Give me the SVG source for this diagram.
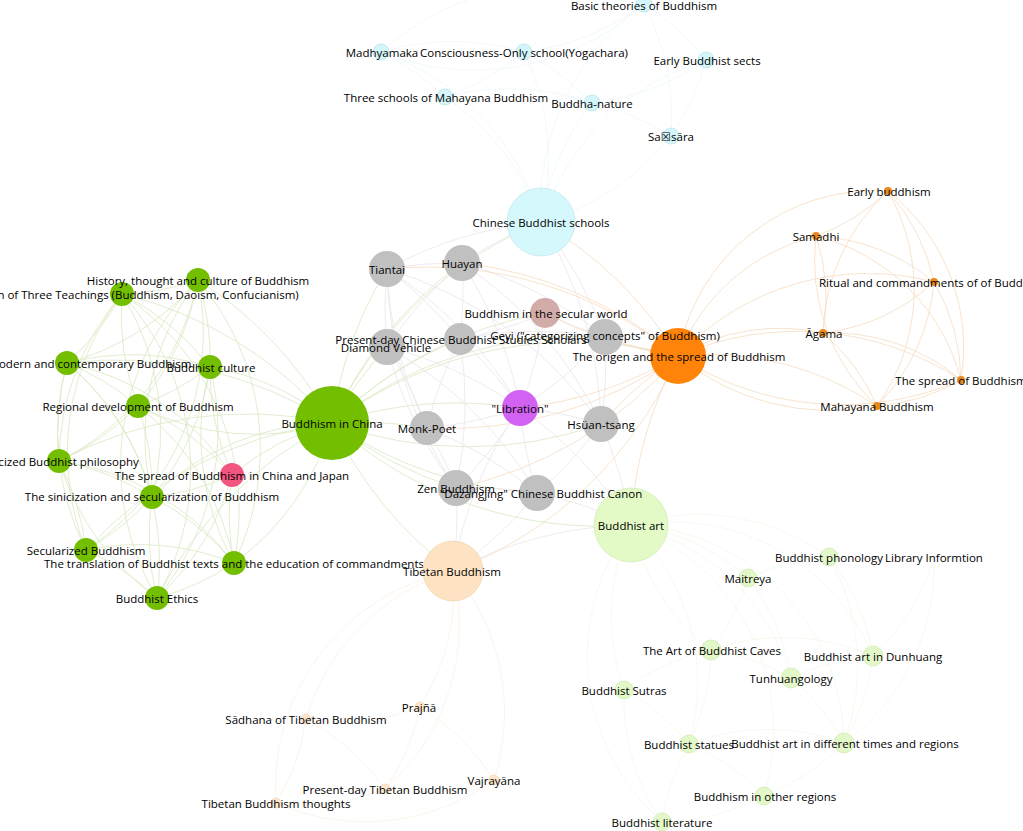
<svg xmlns="http://www.w3.org/2000/svg" width="1023" height="831" viewBox="0 0 1023 831">
<style>
text{font-family:"Open Sans","Noto Sans","DejaVu Sans",sans-serif;font-size:11.5px;fill:#000;text-anchor:middle;dominant-baseline:central}
path{fill:none;stroke-width:0.8}
.eg{stroke:#d9e8c3}
.ec{stroke:#ebe5ec}
.eo{stroke:#f8dcc0}
.ey{stroke:#eef8f9}
.el{stroke:#f2f9ea}
.ep{stroke:#fcf1e6}
.cy{fill:#d4f6fa;stroke:#aedde4;stroke-width:0.6}
.gr{fill:#74be00}
.or{fill:#e8891c}
.lg{fill:#e3f8c8;stroke:#c9e6a7;stroke-width:0.6}
.pe{fill:#fde6cc;stroke:#efd0ae;stroke-width:0.6}
.gy{fill:#c0c0c0}
</style>
<rect width="1023" height="831" fill="#ffffff"/>
<g id="edges">
<path class="eg" d="M198 280A260 260 0 0 1 122 294"/>
<path class="eg" d="M198 280A260 260 0 0 1 67 363"/>
<path class="eg" d="M198 280A260 260 0 0 1 210 367"/>
<path class="eg" d="M198 280A260 260 0 0 1 138 406"/>
<path class="eg" d="M198 280A260 260 0 0 1 59 461"/>
<path class="eg" d="M152 497A260 260 0 0 1 198 280"/>
<path class="eg" d="M198 280A260 260 0 0 1 86 550"/>
<path class="eg" d="M198 280A260 260 0 0 1 234 563"/>
<path class="eg" d="M157 598A260 260 0 0 1 198 280"/>
<path class="eg" d="M198 280A400 400 0 0 1 332 423"/>
<path class="eg" d="M122 294A260 260 0 0 1 67 363"/>
<path class="eg" d="M122 294A260 260 0 0 1 210 367"/>
<path class="eg" d="M138 406A260 260 0 0 1 122 294"/>
<path class="eg" d="M59 461A260 260 0 0 1 122 294"/>
<path class="eg" d="M122 294A260 260 0 0 1 152 497"/>
<path class="eg" d="M86 550A260 260 0 0 1 122 294"/>
<path class="eg" d="M122 294A260 260 0 0 1 234 563"/>
<path class="eg" d="M122 294A260 260 0 0 1 157 598"/>
<path class="eg" d="M122 294A400 400 0 0 1 332 423"/>
<path class="eg" d="M67 363A260 260 0 0 1 210 367"/>
<path class="eg" d="M67 363A260 260 0 0 1 138 406"/>
<path class="eg" d="M59 461A260 260 0 0 1 67 363"/>
<path class="eg" d="M67 363A260 260 0 0 1 152 497"/>
<path class="eg" d="M86 550A260 260 0 0 1 67 363"/>
<path class="eg" d="M67 363A260 260 0 0 1 157 598"/>
<path class="eg" d="M67 363A400 400 0 0 1 332 423"/>
<path class="eg" d="M210 367A260 260 0 0 1 138 406"/>
<path class="eg" d="M210 367A260 260 0 0 1 152 497"/>
<path class="eg" d="M234 563A260 260 0 0 1 210 367"/>
<path class="eg" d="M210 367A260 260 0 0 1 157 598"/>
<path class="eg" d="M210 367A260 260 0 0 1 332 423"/>
<path class="eg" d="M232 475A260 260 0 0 1 210 367"/>
<path class="eg" d="M138 406A260 260 0 0 1 59 461"/>
<path class="eg" d="M138 406A260 260 0 0 1 152 497"/>
<path class="eg" d="M138 406A260 260 0 0 1 234 563"/>
<path class="eg" d="M332 423A260 260 0 0 1 138 406"/>
<path class="eg" d="M138 406A260 260 0 0 1 232 475"/>
<path class="eg" d="M59 461A260 260 0 0 1 152 497"/>
<path class="eg" d="M59 461A260 260 0 0 1 86 550"/>
<path class="eg" d="M157 598A260 260 0 0 1 59 461"/>
<path class="eg" d="M59 461A260 260 0 0 1 234 563"/>
<path class="eg" d="M59 461A400 400 0 0 1 332 423"/>
<path class="eg" d="M152 497A260 260 0 0 1 86 550"/>
<path class="eg" d="M152 497A260 260 0 0 1 234 563"/>
<path class="eg" d="M157 598A260 260 0 0 1 152 497"/>
<path class="eg" d="M152 497A260 260 0 0 1 332 423"/>
<path class="eg" d="M232 475A260 260 0 0 1 152 497"/>
<path class="eg" d="M86 550A260 260 0 0 1 234 563"/>
<path class="eg" d="M86 550A260 260 0 0 1 157 598"/>
<path class="eg" d="M86 550A400 400 0 0 1 332 423"/>
<path class="eg" d="M234 563A260 260 0 0 1 157 598"/>
<path class="eg" d="M332 423A260 260 0 0 1 234 563"/>
<path class="eg" d="M234 563A260 260 0 0 1 232 475"/>
<path class="eg" d="M157 598A400 400 0 0 1 332 423"/>
<path class="eg" d="M232 475A260 260 0 0 1 157 598"/>
<path class="eg" d="M232 475A260 260 0 0 1 332 423"/>
<path class="eg" d="M67 363A260 260 0 0 1 232 475"/>
<path class="eg" d="M332 423A400 400 0 0 1 387 269"/>
<path class="eg" d="M332 423A400 400 0 0 1 462 263"/>
<path class="eg" d="M332 423A400 400 0 0 1 460 339"/>
<path class="eg" d="M332 423A400 400 0 0 1 387 347"/>
<path class="eg" d="M332 423A400 400 0 0 1 427 428"/>
<path class="eg" d="M456 488A400 400 0 0 1 332 423"/>
<path class="eg" d="M537 493A400 400 0 0 1 332 423"/>
<path class="eg" d="M332 423A400 400 0 0 1 520 408"/>
<path class="eg" d="M601 424A400 400 0 0 1 332 423"/>
<path class="eg" d="M332 423A400 400 0 0 1 605 337"/>
<path class="eg" d="M332 423A400 400 0 0 1 678 356"/>
<path class="eg" d="M332 423A400 400 0 0 1 541 222"/>
<path class="eg" d="M453 571A400 400 0 0 1 332 423"/>
<path class="eg" d="M631 525A400 400 0 0 1 332 423"/>
<path class="eg" d="M332 423A400 400 0 0 1 545 313"/>
<path class="ec" d="M387 269A400 400 0 0 1 462 263"/>
<path class="ec" d="M387 347A400 400 0 0 1 387 269"/>
<path class="ec" d="M387 269A400 400 0 0 1 460 339"/>
<path class="ec" d="M387 269A400 400 0 0 1 541 222"/>
<path class="ec" d="M427 428A400 400 0 0 1 387 269"/>
<path class="ec" d="M456 488A400 400 0 0 1 387 269"/>
<path class="ec" d="M387 269A400 400 0 0 1 520 408"/>
<path class="ec" d="M462 263A400 400 0 0 1 460 339"/>
<path class="ec" d="M462 263A400 400 0 0 1 541 222"/>
<path class="ec" d="M387 347A400 400 0 0 1 462 263"/>
<path class="ec" d="M462 263A400 400 0 0 1 605 337"/>
<path class="ec" d="M462 263A400 400 0 0 1 520 408"/>
<path class="ec" d="M462 263A400 400 0 0 1 601 424"/>
<path class="ec" d="M460 339A400 400 0 0 1 387 347"/>
<path class="ec" d="M460 339A400 400 0 0 1 520 408"/>
<path class="ec" d="M460 339A400 400 0 0 1 605 337"/>
<path class="ec" d="M427 428A400 400 0 0 1 460 339"/>
<path class="ec" d="M460 339A400 400 0 0 1 456 488"/>
<path class="ec" d="M387 347A400 400 0 0 1 427 428"/>
<path class="ec" d="M456 488A400 400 0 0 1 387 347"/>
<path class="ec" d="M387 347A400 400 0 0 1 520 408"/>
<path class="ec" d="M605 337A400 400 0 0 1 520 408"/>
<path class="ec" d="M605 337A400 400 0 0 1 601 424"/>
<path class="ec" d="M605 337A400 400 0 0 1 545 313"/>
<path class="ec" d="M545 313A400 400 0 0 1 520 408"/>
<path class="ec" d="M545 313A400 400 0 0 1 460 339"/>
<path class="ec" d="M520 408A400 400 0 0 1 601 424"/>
<path class="ec" d="M520 408A400 400 0 0 1 427 428"/>
<path class="ec" d="M520 408A400 400 0 0 1 456 488"/>
<path class="ec" d="M537 493A400 400 0 0 1 520 408"/>
<path class="ec" d="M520 408A400 400 0 0 1 631 525"/>
<path class="ec" d="M453 571A400 400 0 0 1 520 408"/>
<path class="ec" d="M601 424A400 400 0 0 1 537 493"/>
<path class="ec" d="M601 424A400 400 0 0 1 631 525"/>
<path class="ec" d="M427 428A400 400 0 0 1 456 488"/>
<path class="ec" d="M427 428A400 400 0 0 1 537 493"/>
<path class="ec" d="M456 488A400 400 0 0 1 537 493"/>
<path class="ec" d="M456 488A400 400 0 0 1 453 571"/>
<path class="ec" d="M537 493A400 400 0 0 1 631 525"/>
<path class="ec" d="M537 493A400 400 0 0 1 453 571"/>
<path class="ec" d="M541 222A400 400 0 0 1 605 337"/>
<path class="ec" d="M541 222A400 400 0 0 1 601 424"/>
<path class="ec" d="M453 571A400 400 0 0 1 631 525"/>
<path class="ec" d="M387 347A400 400 0 0 1 537 493"/>
<path class="ec" d="M387 269A400 400 0 0 1 601 424"/>
<path class="eo" d="M541 222A400 400 0 0 1 678 356"/>
<path class="eo" d="M678 356A400 400 0 0 1 605 337"/>
<path class="eo" d="M678 356A400 400 0 0 1 545 313"/>
<path class="eo" d="M601 424A400 400 0 0 1 678 356"/>
<path class="eo" d="M678 356A400 400 0 0 1 520 408"/>
<path class="eo" d="M631 525A400 400 0 0 1 678 356"/>
<path class="eo" d="M678 356A400 400 0 0 1 453 571"/>
<path class="eo" d="M387 269A400 400 0 0 1 678 356"/>
<path class="eo" d="M462 263A400 400 0 0 1 678 356"/>
<path class="eo" d="M678 356A400 400 0 0 1 427 428"/>
<path class="eo" d="M678 356A400 400 0 0 1 456 488"/>
<path class="eo" d="M678 356A200 200 0 0 1 888 191"/>
<path class="eo" d="M678 356A200 200 0 0 1 816 236"/>
<path class="eo" d="M678 356A260 260 0 0 1 934 282"/>
<path class="eo" d="M678 356A200 200 0 0 1 823 333"/>
<path class="eo" d="M961 380A300 300 0 0 1 678 356"/>
<path class="eo" d="M877 406A240 240 0 0 1 678 356"/>
<path class="eo" d="M678 356A300 300 0 0 1 877 406"/>
<path class="eo" d="M678 356A300 300 0 0 1 961 380"/>
<path class="eo" d="M888 191A200 200 0 0 1 816 236"/>
<path class="eo" d="M888 191A200 200 0 0 1 934 282"/>
<path class="eo" d="M823 333A200 200 0 0 1 888 191"/>
<path class="eo" d="M888 191A200 200 0 0 1 961 380"/>
<path class="eo" d="M888 191A200 200 0 0 1 877 406"/>
<path class="eo" d="M816 236A200 200 0 0 1 934 282"/>
<path class="eo" d="M816 236A200 200 0 0 1 823 333"/>
<path class="eo" d="M877 406A200 200 0 0 1 816 236"/>
<path class="eo" d="M816 236A200 200 0 0 1 961 380"/>
<path class="eo" d="M934 282A200 200 0 0 1 823 333"/>
<path class="eo" d="M934 282A200 200 0 0 1 961 380"/>
<path class="eo" d="M934 282A200 200 0 0 1 877 406"/>
<path class="eo" d="M823 333A200 200 0 0 1 877 406"/>
<path class="eo" d="M823 333A200 200 0 0 1 961 380"/>
<path class="eo" d="M961 380A200 200 0 0 1 877 406"/>
<path class="ey" d="M541 222A250 250 0 0 1 644 4"/>
<path class="ey" d="M381 52A250 250 0 0 1 541 222"/>
<path class="ey" d="M524 52A250 250 0 0 1 541 222"/>
<path class="ey" d="M541 222A250 250 0 0 1 706 60"/>
<path class="ey" d="M445 97A250 250 0 0 1 541 222"/>
<path class="ey" d="M541 222A250 250 0 0 1 592 103"/>
<path class="ey" d="M671 136A250 250 0 0 1 541 222"/>
<path class="ey" d="M644 4A250 250 0 0 1 381 52"/>
<path class="ey" d="M644 4A250 250 0 0 1 524 52"/>
<path class="ey" d="M644 4A250 250 0 0 1 706 60"/>
<path class="ey" d="M644 4A250 250 0 0 1 671 136"/>
<path class="ey" d="M381 52A250 250 0 0 1 524 52"/>
<path class="ey" d="M381 52A250 250 0 0 1 445 97"/>
<path class="ey" d="M524 52A250 250 0 0 1 445 97"/>
<path class="ey" d="M524 52A250 250 0 0 1 592 103"/>
<path class="ey" d="M592 103A250 250 0 0 1 671 136"/>
<path class="ey" d="M706 60A250 250 0 0 1 671 136"/>
<path class="ey" d="M445 97A250 250 0 0 1 592 103"/>
<path class="ey" d="M706 60A250 250 0 0 1 592 103"/>
<path class="ey" d="M381 52A250 250 0 0 1 644 4"/>
<path class="el" d="M631 525A220 220 0 0 1 829 557"/>
<path class="el" d="M631 525A220 220 0 0 1 748 578"/>
<path class="el" d="M711 650A220 220 0 0 1 631 525"/>
<path class="el" d="M631 525A220 220 0 0 1 873 656"/>
<path class="el" d="M631 525A220 220 0 0 1 791 678"/>
<path class="el" d="M624 690A220 220 0 0 1 631 525"/>
<path class="el" d="M631 525A220 220 0 0 1 689 744"/>
<path class="el" d="M631 525A220 220 0 0 1 844 743"/>
<path class="el" d="M631 525A220 220 0 0 1 764 796"/>
<path class="el" d="M662 822A220 220 0 0 1 631 525"/>
<path class="el" d="M748 578A220 220 0 0 1 829 557"/>
<path class="el" d="M829 557A220 220 0 0 1 873 656"/>
<path class="el" d="M829 557A220 220 0 0 1 844 743"/>
<path class="el" d="M748 578A220 220 0 0 1 711 650"/>
<path class="el" d="M748 578A220 220 0 0 1 791 678"/>
<path class="el" d="M711 650A220 220 0 0 1 791 678"/>
<path class="el" d="M711 650A220 220 0 0 1 873 656"/>
<path class="el" d="M624 690A220 220 0 0 1 711 650"/>
<path class="el" d="M711 650A220 220 0 0 1 689 744"/>
<path class="el" d="M791 678A220 220 0 0 1 873 656"/>
<path class="el" d="M791 678A220 220 0 0 1 844 743"/>
<path class="el" d="M624 690A220 220 0 0 1 689 744"/>
<path class="el" d="M662 822A220 220 0 0 1 624 690"/>
<path class="el" d="M689 744A220 220 0 0 1 844 743"/>
<path class="el" d="M689 744A220 220 0 0 1 764 796"/>
<path class="el" d="M844 743A220 220 0 0 1 764 796"/>
<path class="el" d="M873 656A220 220 0 0 1 844 743"/>
<path class="el" d="M764 796A220 220 0 0 1 662 822"/>
<path class="el" d="M662 822A220 220 0 0 1 689 744"/>
<path class="el" d="M934 557A220 220 0 0 1 873 656"/>
<path class="el" d="M934 557A220 220 0 0 1 844 743"/>
<path class="ep" d="M453 571A220 220 0 0 1 420 707"/>
<path class="ep" d="M306 719A220 220 0 0 1 453 571"/>
<path class="ep" d="M453 571A220 220 0 0 1 494 780"/>
<path class="ep" d="M453 571A220 220 0 0 1 385 789"/>
<path class="ep" d="M276 803A220 220 0 0 1 453 571"/>
<path class="ep" d="M420 707A220 220 0 0 1 306 719"/>
<path class="ep" d="M420 707A220 220 0 0 1 494 780"/>
<path class="ep" d="M420 707A220 220 0 0 1 385 789"/>
<path class="ep" d="M306 719A220 220 0 0 1 276 803"/>
<path class="ep" d="M306 719A220 220 0 0 1 385 789"/>
<path class="ep" d="M494 780A220 220 0 0 1 385 789"/>
<path class="ep" d="M385 789A220 220 0 0 1 276 803"/>
<path class="ep" d="M494 780A220 220 0 0 1 276 803"/>
</g>
<g id="n-basic"><circle class="cy" cx="644" cy="4" r="8"/><text x="644" y="5">Basic theories of Buddhism</text></g>
<g id="n-madhyamaka"><circle class="cy" cx="381" cy="52" r="8"/><text x="382" y="52">Madhyamaka</text></g>
<g id="n-consciousness"><circle class="cy" cx="524" cy="52" r="8"/><text x="524" y="52">Consciousness-Only school(Yogachara)</text></g>
<g id="n-early-sects"><circle class="cy" cx="706" cy="60" r="8"/><text x="707" y="60">Early Buddhist sects</text></g>
<g id="n-three-schools"><circle class="cy" cx="445" cy="97" r="8"/><text x="446" y="97">Three schools of Mahayana Buddhism</text></g>
<g id="n-buddha-nature"><circle class="cy" cx="592" cy="103" r="8"/><text x="592" y="103">Buddha-nature</text></g>
<g id="n-samsara"><circle class="cy" cx="671" cy="136" r="8"/><text x="671" y="136">Sa☒sāra</text></g>
<g id="n-early-buddhism"><circle class="or" cx="888" cy="191" r="4"/><text x="889" y="191">Early buddhism</text></g>
<g id="n-samadhi"><circle class="or" cx="816" cy="236" r="4"/><text x="816" y="236">Samadhi</text></g>
<g id="n-ritual"><circle class="or" cx="934" cy="282" r="4"/><text x="934" y="282">Ritual and commandments of of Buddhism</text></g>
<g id="n-agama"><circle class="or" cx="823" cy="333" r="4"/><text x="824" y="333">Āgama</text></g>
<g id="n-spread"><circle class="or" cx="961" cy="380" r="4"/><text x="961" y="380">The spread of Buddhism</text></g>
<g id="n-mahayana"><circle class="or" cx="877" cy="406" r="4"/><text x="877" y="406">Mahayana Buddhism</text></g>
<g id="n-phonology"><circle class="lg" cx="829" cy="557" r="9"/><text x="829" y="557">Buddhist phonology</text></g>
<g id="n-library"><text x="934" y="557">Library Informtion</text></g>
<g id="n-maitreya"><circle class="lg" cx="748" cy="578" r="9"/><text x="748" y="578">Maitreya</text></g>
<g id="n-caves"><circle class="lg" cx="711" cy="650" r="10"/><text x="712" y="650">The Art of Buddhist Caves</text></g>
<g id="n-dunhuang"><circle class="lg" cx="873" cy="656" r="10"/><text x="873" y="656">Buddhist art in Dunhuang</text></g>
<g id="n-tunhuangology"><circle class="lg" cx="791" cy="678" r="10"/><text x="791" y="678">Tunhuangology</text></g>
<g id="n-sutras"><circle class="lg" cx="624" cy="690" r="9"/><text x="624" y="690">Buddhist Sutras</text></g>
<g id="n-statues"><circle class="lg" cx="689" cy="744" r="9"/><text x="689" y="744">Buddhist statues</text></g>
<g id="n-art-times"><circle class="lg" cx="844" cy="743" r="10"/><text x="845" y="743">Buddhist art in different times and regions</text></g>
<g id="n-other-regions"><circle class="lg" cx="764" cy="796" r="9"/><text x="765" y="796">Buddhism in other regions</text></g>
<g id="n-literature"><circle class="lg" cx="662" cy="822" r="9"/><text x="662" y="822">Buddhist literature</text></g>
<g id="n-prajna"><circle class="pe" cx="420" cy="707" r="5"/><text x="419" y="707">Prajñā</text></g>
<g id="n-sadhana"><circle class="pe" cx="306" cy="719" r="5"/><text x="306" y="719">Sādhana of Tibetan Buddhism</text></g>
<g id="n-vajrayana"><circle class="pe" cx="494" cy="780" r="5"/><text x="494" y="780">Vajrayāna</text></g>
<g id="n-present-tibetan"><circle class="pe" cx="385" cy="789" r="5"/><text x="385" y="789">Present-day Tibetan Buddhism</text></g>
<g id="n-tibetan-thoughts"><circle class="pe" cx="276" cy="803" r="5"/><text x="276" y="803">Tibetan Buddhism thoughts</text></g>
<g id="n-three-teachings"><circle class="gr" cx="122" cy="294" r="12"/><text x="122" y="294">Integration of Three Teachings (Buddhism, Daoism, Confucianism)</text></g>
<g id="n-history"><circle class="gr" cx="198" cy="280" r="12"/><text x="198" y="280">History, thought and culture of Buddhism</text></g>
<g id="n-modern"><circle class="gr" cx="67" cy="363" r="12"/><text x="67" y="363">Chinese modern and contemporary  Buddhism</text></g>
<g id="n-sinicized-phil"><circle class="gr" cx="59" cy="461" r="12"/><text x="59" y="461">Sinicized Buddhist philosophy</text></g>
<g id="n-secularized"><circle class="gr" cx="86" cy="550" r="12"/><text x="86" y="550">Secularized Buddhism</text></g>
<g id="n-regional"><circle class="gr" cx="138" cy="406" r="12"/><text x="138" y="406">Regional development of Buddhism</text></g>
<g id="n-ethics"><circle class="gr" cx="157" cy="598" r="12"/><text x="157" y="598">Buddhist Ethics</text></g>
<g id="n-culture"><circle class="gr" cx="210" cy="367" r="12"/><text x="211" y="367">Buddhist culture</text></g>
<g id="n-sinicization"><circle class="gr" cx="152" cy="497" r="12"/><text x="152" y="496">The sinicization and secularization of Buddhism</text></g>
<g id="n-translation"><circle class="gr" cx="234" cy="563" r="12"/><text x="234" y="563">The translation of Buddhist texts and the education of commandments</text></g>
<g id="n-china-japan"><circle cx="232" cy="475" r="12" fill="#f2557f"/><text x="232" y="475">The spread of Buddhism in China and Japan</text></g>
<g id="n-buddhism-china"><circle class="gr" cx="332" cy="423" r="37"/><text x="332" y="423">Buddhism in China</text></g>
<g id="n-chinese-schools"><circle cx="541" cy="222" r="34" fill="#d4f8fb" stroke="#b8e2e8" stroke-width="0.6"/><text x="541" y="222">Chinese Buddhist schools</text></g>
<g id="n-buddhist-art"><circle cx="631" cy="525" r="37" fill="#e3fac6" stroke="#cde9ac" stroke-width="0.6"/><text x="631" y="525">Buddhist art</text></g>
<g id="n-tibetan"><circle cx="453" cy="571" r="30" fill="#fde2c3" stroke="#f0d0aa" stroke-width="0.6"/><text x="452" y="571">Tibetan Buddhism</text></g>
<g id="n-tiantai"><circle class="gy" cx="387" cy="269" r="18"/><text x="387" y="269">Tiantai</text></g>
<g id="n-huayan"><circle class="gy" cx="462" cy="263" r="18"/><text x="462" y="263">Huayan</text></g>
<g id="n-diamond"><circle class="gy" cx="387" cy="347" r="18"/><text x="386" y="347">Diamond Vehicle</text></g>
<g id="n-scholars"><circle class="gy" cx="460" cy="339" r="16"/><text x="461" y="339">Present-day Chinese Buddhist Studies Scholars</text></g>
<g id="n-secular-world"><circle cx="545" cy="313" r="15" fill="#d2aca8"/><text x="546" y="313">Buddhism in the secular world</text></g>
<g id="n-monk-poet"><circle class="gy" cx="427" cy="428" r="17"/><text x="427" y="428">Monk-Poet</text></g>
<g id="n-zen"><circle class="gy" cx="456" cy="488" r="18"/><text x="456" y="488">Zen Buddhism</text></g>
<g id="n-dazangjing"><circle class="gy" cx="537" cy="493" r="18"/><text x="541" y="493">"Dazangjing" Chinese Buddhist Canon</text></g>
<g id="n-hsuan"><circle class="gy" cx="601" cy="424" r="18"/><text x="601" y="424">Hsüan-tsang</text></g>
<g id="n-libration"><circle cx="520" cy="408" r="18" fill="#d262f2"/><text x="520" y="408">"Libration"</text></g>
<g id="n-origen"><circle cx="678" cy="356" r="28" fill="#ff8409"/><text x="679" y="356">The origen and the spread of Buddhism</text></g>
<g id="n-geyi"><circle class="gy" cx="605" cy="337" r="18"/><text x="605" y="335">Geyi ("categorizing concepts" of Buddhism)</text></g>
</svg>
